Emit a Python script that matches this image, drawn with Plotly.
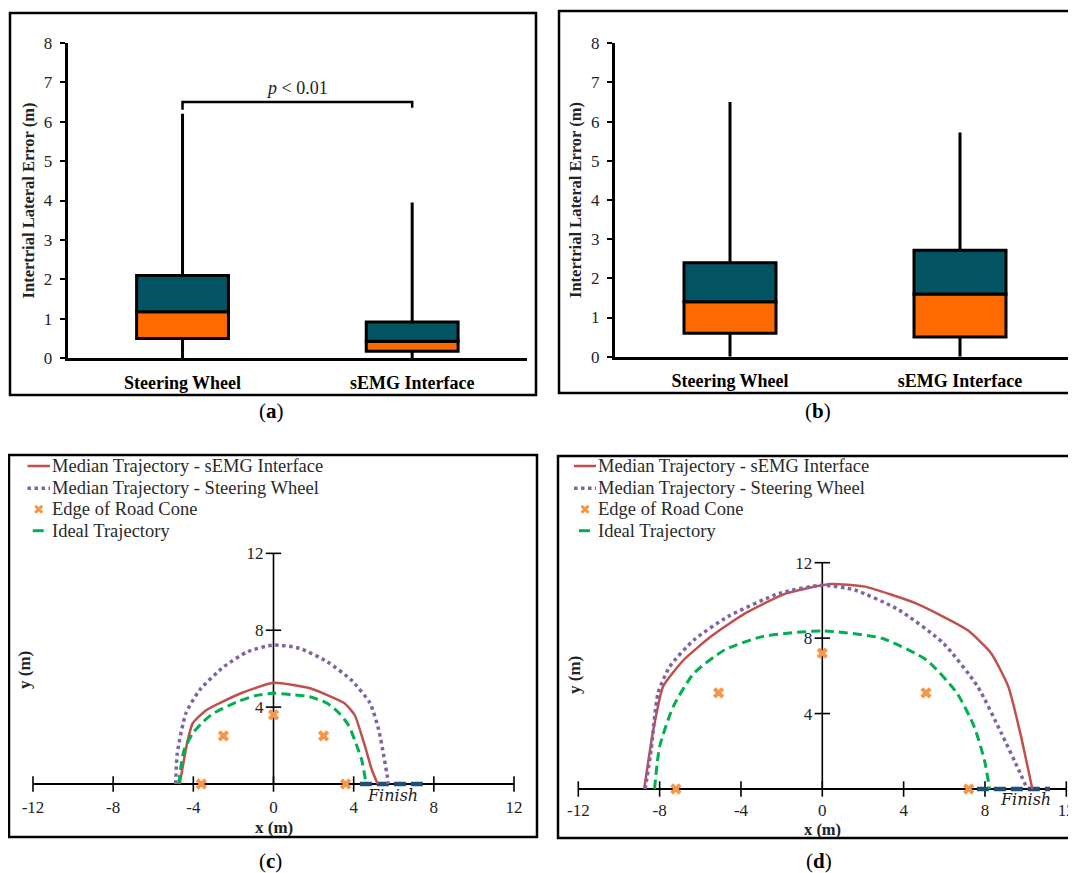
import plotly.graph_objects as go

W, H = 1076, 873
PAGE_OFFSET = 8  # the page body margin shifts the figure; compensate in layout positions

# ------------------------- data -------------------------
categories = ["Steering Wheel", "sEMG Interface"]

# (a) intertrial lateral error, box statistics (m)
a_min = [0.0, 0.0]
a_q1 = [0.50, 0.18]
a_median = [1.18, 0.43]
a_q3 = [2.10, 0.92]
a_max = [6.20, 3.95]
a_bracket_y = [6.30, 6.50, 6.50, 6.35]
a_p_label_y = 6.85

# (b) intertrial lateral error, box statistics (m)
b_min = [0.0, 0.0]
b_q1 = [0.60, 0.50]
b_median = [1.40, 1.60]
b_q3 = [2.40, 2.72]
b_max = [6.50, 5.72]

box_yticks = [0, 1, 2, 3, 4, 5, 6, 7, 8]

# (c) trajectories (m)
c_semg_x = [-4.68, -4.28, -4.03, -3.34, -1.62, 0.0, 1.82, 3.54, 4.05, 4.57, 4.91, 5.20]
c_semg_y = [0.0, 2.29, 3.16, 3.85, 4.72, 5.27, 4.98, 4.20, 3.59, 1.94, 0.73, 0.0]
c_wheel_x = [-4.88, -4.80, -4.37, -3.68, -2.48, -1.28, 0.0, 1.30, 2.68, 3.88, 4.82, 5.25, 5.51, 5.68, 5.72]
c_wheel_y = [0.0, 1.60, 3.68, 4.89, 6.10, 6.89, 7.23, 7.06, 6.36, 5.41, 4.20, 2.81, 1.42, 0.38, 0.0]
c_ideal_x = [-4.73, -4.62, -4.46, -4.03, -3.50, -2.99, -1.79, -0.90, 0.0, 0.90, 1.82, 2.68, 3.28, 3.75, 4.05, 4.40, 4.62]
c_ideal_y = [0.0, 0.90, 1.77, 2.64, 3.25, 3.68, 4.28, 4.60, 4.72, 4.65, 4.54, 4.20, 3.68, 3.05, 2.29, 1.25, 0.0]
c_cone_x = [-3.6, -2.5, 0.0, 2.5, 3.6]
c_cone_y = [0.0, 2.5, 3.6, 2.5, 0.0]
c_finish_x = [4.31, 7.66]
c_finish_label = (5.94, -0.62)

# (d) trajectories (m)
d_semg_x = [-8.76, -8.34, -7.83, -6.82, -5.48, -3.80, -1.78, 0.41, 2.09, 4.61, 7.14, 8.31, 9.15, 9.74, 10.33]
d_semg_y = [0.0, 2.95, 5.43, 6.84, 8.08, 9.31, 10.37, 10.87, 10.73, 9.84, 8.43, 7.19, 5.43, 2.95, 0.0]
d_wheel_x = [-8.71, -8.42, -8.08, -7.50, -6.32, -4.64, -2.12, 0.0, 1.60, 3.77, 5.96, 7.64, 8.81, 9.66, 10.08]
d_wheel_y = [0.0, 2.07, 5.07, 6.49, 7.90, 9.14, 10.37, 10.80, 10.55, 9.49, 7.72, 5.43, 2.95, 1.01, 0.0]
d_ideal_x = [-8.25, -8.00, -7.33, -6.32, -4.81, -2.96, 0.0, 2.93, 5.12, 6.63, 7.47, 7.97, 8.23]
d_ideal_y = [0.0, 2.24, 4.37, 6.13, 7.37, 8.08, 8.38, 7.99, 6.84, 5.07, 3.30, 1.54, 0.0]
d_cone_x = [-7.2, -5.1, 0.0, 5.1, 7.2]
d_cone_y = [0.0, 5.1, 7.2, 5.1, 0.0]
d_finish_x = [7.60, 11.20]
d_finish_label = (10.0, -0.58)

traj_xticks = [-12, -8, -4, 0, 4, 8, 12]
traj_yticks = [4, 8, 12]
traj_xrange = [-12, 12]
traj_yaxis_span = [0, 12]

legend_labels = ["Median Trajectory - sEMG Interface", "Median Trajectory - Steering Wheel",
                 "Edge of Road Cone", "Ideal Trajectory"]

# ------------------------- style -------------------------
SERIF = "Liberation Serif"
TEAL = "#035463"
ORANGE = "#FF6A00"
RED = "#C0504D"
PURPLE = "#8064A2"
CONE = "#F79646"
GREEN = "#00B050"
NAVY = "#1F4E79"
TXT = "#222222"


def px(p):
    return (p - PAGE_OFFSET) / W


def py(p):
    return 1 - (p - PAGE_OFFSET) / H


fig = go.Figure()


def box_panel(n, q1, med, q3, lo, hi):
    xa = "x" if n == 1 else "x%d" % n
    ya = "y" if n == 1 else "y%d" % n
    wx, wy = [], []
    for c, a, b, c3, d in zip(categories, lo, q1, q3, hi):
        wx += [c, c, None, c, c, None]
        wy += [a, b, None, c3, d, None]
    fig.add_trace(go.Scatter(x=wx, y=wy, mode="lines", line=dict(color="black", width=3),
                             showlegend=False, hoverinfo="skip", xaxis=xa, yaxis=ya))
    fig.add_trace(go.Bar(x=categories, y=[m - q for m, q in zip(med, q1)], base=q1, width=0.4,
                         marker=dict(color=ORANGE, line=dict(color="black", width=3)),
                         showlegend=False, xaxis=xa, yaxis=ya))
    fig.add_trace(go.Bar(x=categories, y=[u - m for u, m in zip(q3, med)], base=med, width=0.4,
                         marker=dict(color=TEAL, line=dict(color="black", width=3)),
                         showlegend=False, xaxis=xa, yaxis=ya))


box_panel(1, a_q1, a_median, a_q3, a_min, a_max)
box_panel(2, b_q1, b_median, b_q3, b_min, b_max)

# significance bracket on (a)
fig.add_trace(go.Scatter(x=[categories[0], categories[0], categories[1], categories[1]], y=a_bracket_y,
                         mode="lines", line=dict(color="black", width=2.5), showlegend=False,
                         hoverinfo="skip", xaxis="x", yaxis="y"))


def traj_panel(n, semg, wheel, ideal, cones, finish):
    xa, ya = "x%d" % n, "y%d" % n
    # y axis line (data span 0..12) and cross tick marks
    fig.add_trace(go.Scatter(x=[0, 0], y=traj_yaxis_span, mode="lines", line=dict(color="black", width=1.6),
                             showlegend=False, hoverinfo="skip", xaxis=xa, yaxis=ya))
    fig.add_trace(go.Scatter(x=[0] * len(traj_yticks), y=traj_yticks, mode="markers",
                             marker=dict(symbol="line-ew-open", size=11, color="black",
                                         line=dict(color="black", width=1.6)),
                             showlegend=False, hoverinfo="skip", cliponaxis=False, xaxis=xa, yaxis=ya))
    fig.add_trace(go.Scatter(x=traj_xticks, y=[0] * len(traj_xticks), mode="markers",
                             marker=dict(symbol="line-ns-open", size=11, color="black",
                                         line=dict(color="black", width=1.6)),
                             showlegend=False, hoverinfo="skip", cliponaxis=False, xaxis=xa, yaxis=ya))
    # finish line
    fig.add_trace(go.Scatter(x=finish, y=[0, 0], mode="lines",
                             line=dict(color=NAVY, width=4.5, dash="12px,5px"),
                             showlegend=False, hoverinfo="skip", xaxis=xa, yaxis=ya))
    fig.add_trace(go.Scatter(x=semg[0], y=semg[1], mode="lines", name=legend_labels[0],
                             line=dict(color=RED, width=2.5, shape="spline", smoothing=0.5),
                             showlegend=False, xaxis=xa, yaxis=ya))
    fig.add_trace(go.Scatter(x=wheel[0], y=wheel[1], mode="lines", name=legend_labels[1],
                             line=dict(color=PURPLE, width=3.5, dash="dot", shape="spline", smoothing=0.6),
                             showlegend=False, xaxis=xa, yaxis=ya))
    fig.add_trace(go.Scatter(x=cones[0], y=cones[1], mode="markers", name=legend_labels[2],
                             marker=dict(symbol="x", size=10, color=CONE), cliponaxis=False,
                             showlegend=False, xaxis=xa, yaxis=ya))
    fig.add_trace(go.Scatter(x=ideal[0], y=ideal[1], mode="lines", name=legend_labels[3],
                             line=dict(color=GREEN, width=3, dash="9px,5px", shape="spline", smoothing=0.6),
                             showlegend=False, xaxis=xa, yaxis=ya))


traj_panel(3, (c_semg_x, c_semg_y), (c_wheel_x, c_wheel_y), (c_ideal_x, c_ideal_y),
           (c_cone_x, c_cone_y), c_finish_x)
traj_panel(4, (d_semg_x, d_semg_y), (d_wheel_x, d_wheel_y), (d_ideal_x, d_ideal_y),
           (d_cone_x, d_cone_y), d_finish_x)

# ------------------------- layout -------------------------
tickfont = dict(family=SERIF, size=17, color=TXT)
cat_font = dict(family=SERIF, size=18, color="black", weight="bold")


def box_xaxis(x0, x1, anchor):
    return dict(domain=[px(x0), px(x1)], anchor=anchor, type="category", range=[-0.5, 1.5],
                showline=True, linecolor="black", linewidth=3, ticks="", showgrid=False,
                zeroline=False, tickfont=cat_font, ticklabelstandoff=6, fixedrange=True)


def box_yaxis(y0, y1, anchor):
    return dict(domain=[py(y0), py(y1)], anchor=anchor, range=[0, 8], tickvals=box_yticks,
                showline=True, linecolor="black", linewidth=3, ticks="outside", ticklen=5,
                tickwidth=2, tickcolor="black", showgrid=False, zeroline=False, tickfont=tickfont,
                ticklabelstandoff=4,
                title=dict(text="Intertrial Lateral Error (m)", standoff=6,
                           font=dict(family=SERIF, size=16.5, color=TXT, weight="bold")))


def traj_axes(x_left, x_right, y_zero, y_ppu, x_zero, standoff):
    span = traj_yaxis_span
    pad_top, pad_bot = 0.5, 1.2
    ytop = y_zero - (span[1] + pad_top) * y_ppu
    ybot = y_zero + pad_bot * y_ppu
    xa = dict(domain=[px(x_left), px(x_right)], range=traj_xrange, anchor="free", position=py(y_zero),
              showline=True, linecolor="black", linewidth=1.8, layer="below traces", ticks="",
              tickvals=traj_xticks, ticktext=[str(v) for v in traj_xticks], showgrid=False, zeroline=False,
              tickfont=dict(family=SERIF, size=17, color=TXT), ticklabelstandoff=standoff)
    ya = dict(domain=[py(ybot), py(ytop)], range=[-pad_bot, span[1] + pad_top], anchor="free",
              position=px(x_zero), showline=False, ticks="", tickvals=traj_yticks, showgrid=False,
              zeroline=False, tickfont=dict(family=SERIF, size=17, color=TXT), ticklabelstandoff=10)
    return xa, ya


xa3, ya3 = traj_axes(33, 514, 784, 19.22, 273.5, 8)
xa4, ya4 = traj_axes(578.3, 1066.3, 789, 18.86, 822.3, 6)


def ann(text, x, y, xref="paper", yref="paper", size=17, family=SERIF, color=TXT, xanchor="center", angle=0):
    return dict(text=text, x=x, y=y, xref=xref, yref=yref, showarrow=False, xanchor=xanchor,
                yanchor="middle", textangle=angle, font=dict(family=family, size=size, color=color))


annotations = [
    ann("<i>p</i> < 0.01", 0.5, a_p_label_y, "x", "y", size=18),
    ann("<i>Finish</i>", c_finish_label[0], c_finish_label[1], "x3", "y3", size=16, family="DejaVu Serif"),
    ann("<i>Finish</i>", d_finish_label[0], d_finish_label[1], "x4", "y4", size=16, family="DejaVu Serif"),
    ann("<b>x (m)</b>", 0, py(827), "x3", "paper"),
    ann("<b>x (m)</b>", 0, py(829), "x4", "paper", size=16.5),
    ann("<b>y (m)</b>", px(24), py(670), angle=-90),
    ann("<b>y (m)</b>", px(574), py(675), angle=-90),
]
for lab, cx, cy in [("a", 271, 411), ("b", 818, 411), ("c", 270, 861), ("d", 819, 861)]:
    annotations.append(ann("(<b>%s</b>)" % lab, px(cx), py(cy), size=21, color="black"))

shapes = []
for x0, y0, x1, y1 in [(10, 13, 536, 395), (559, 11, 1100, 393), (9, 455, 537, 837), (558, 456, 1100, 838)]:
    shapes.append(dict(type="rect", xref="paper", yref="paper", x0=px(x0), x1=px(x1), y0=py(y1), y1=py(y0),
                       line=dict(color="black", width=2.5), fillcolor="rgba(0,0,0,0)"))

# hand-drawn legends (tighter row spacing than plotly's legend allows)
legend_rows = [466, 488.3, 509.3, 530.7]


def add_legend(sym_x0, sym_x1, text_x):
    r = legend_rows
    shapes.append(dict(type="line", xref="paper", yref="paper", x0=px(sym_x0), x1=px(sym_x1),
                       y0=py(r[0]), y1=py(r[0]), line=dict(color=RED, width=2.5)))
    shapes.append(dict(type="line", xref="paper", yref="paper", x0=px(sym_x0), x1=px(sym_x1),
                       y0=py(r[1]), y1=py(r[1]), line=dict(color=PURPLE, width=3.5, dash="dot")))
    cx = (sym_x0 + sym_x1) / 2
    s = 3.5
    path = "M %f,%f L %f,%f M %f,%f L %f,%f" % (px(cx - s), py(r[2] - s), px(cx + s), py(r[2] + s),
                                                px(cx - s), py(r[2] + s), px(cx + s), py(r[2] - s))
    shapes.append(dict(type="path", xref="paper", yref="paper", path=path, line=dict(color=CONE, width=3)))
    shapes.append(dict(type="line", xref="paper", yref="paper", x0=px(cx - 6), x1=px(cx + 5),
                       y0=py(r[3]), y1=py(r[3]), line=dict(color=GREEN, width=3)))
    for lab, yy in zip(legend_labels, r):
        annotations.append(ann(lab, px(text_x), py(yy), size=18.5, xanchor="left", color="#2a2a2a"))


add_legend(27.5, 50, 50)
add_legend(574, 596, 596)

fig.update_layout(
    width=W, height=H, margin=dict(l=0, r=0, t=0, b=0, pad=0, autoexpand=False),
    paper_bgcolor="white", plot_bgcolor="white",
    barmode="overlay", showlegend=False,
    xaxis=box_xaxis(67.7, 527, "y"), yaxis=box_yaxis(358.3, 42.7, "x"),
    xaxis2=box_xaxis(615, 1075, "y2"), yaxis2=box_yaxis(356.7, 43.3, "x2"),
    xaxis3=xa3, yaxis3=ya3, xaxis4=xa4, yaxis4=ya4,
    annotations=annotations, shapes=shapes,
    font=dict(family=SERIF, color=TXT),
)

fig.write_html("out.html")
